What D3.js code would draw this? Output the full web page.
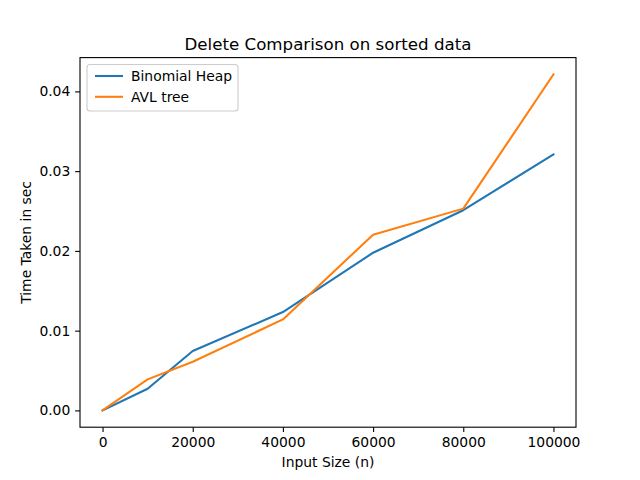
<!DOCTYPE html>
<html><head><meta charset="utf-8">
<script src="https://cdn.jsdelivr.net/npm/d3@7/dist/d3.min.js"></script>
<style>body{margin:0;background:#fff}svg{display:block;font-family:"DejaVu Sans",sans-serif}</style>
</head><body>
<svg id="c" width="640" height="480"></svg>
<script>
const sizes = [0, 10000, 20000, 40000, 60000, 80000, 100000];
const binomialHeap = [0.0, 0.00272, 0.00744, 0.01233, 0.01977, 0.0251, 0.0321];
const avlTree = [0.0, 0.00389, 0.0061, 0.01141, 0.02203, 0.0253, 0.04213];
const xTicks = [0, 20000, 40000, 60000, 80000, 100000];
const yTicks = [0.00, 0.01, 0.02, 0.03, 0.04];
const seriesNames = ["Binomial Heap", "AVL tree"];
const colors = ["#1f77b4", "#ff7f0e"];

const svg = d3.select("#c");
const L = 80, R = 576, T = 57.6, B = 427.2;
const allY = binomialHeap.concat(avlTree);
const ymin = d3.min(allY), ymax = d3.max(allY);
const ypad = (ymax - ymin) * 0.05;
const xpad = (d3.max(sizes) - d3.min(sizes)) * 0.05;
const x = d3.scaleLinear().domain([d3.min(sizes) - xpad, d3.max(sizes) + xpad]).range([L, R]);
const y = d3.scaleLinear().domain([ymin - ypad, ymax + ypad]).range([B, T]);

const fs = 13.89;
const line = d3.line().x((d, i) => x(sizes[i])).y(d => y(d));
[binomialHeap, avlTree].forEach((s, k) => {
  svg.append("path").datum(s).attr("d", line).attr("fill", "none")
    .attr("stroke", colors[k]).attr("stroke-width", 2.08)
    .attr("stroke-linejoin", "round").attr("stroke-linecap", "square");
});

// axes
const xa = d3.axisBottom(x).tickValues(xTicks).tickFormat(d3.format("d")).tickSize(4.86).tickPadding(4.86);
const ya = d3.axisLeft(y).tickValues(yTicks).tickFormat(d3.format(".2f")).tickSize(4.86).tickPadding(4.86);
const gx = svg.append("g").attr("transform", `translate(0,${B})`).call(xa);
const gy = svg.append("g").attr("transform", `translate(${L},0)`).call(ya);
[gx, gy].forEach(g => {
  g.select(".domain").remove();
  g.selectAll("line").attr("stroke", "#000").attr("stroke-width", 1.1);
  g.selectAll("text").attr("font-size", fs).attr("fill", "#000").attr("font-family", "DejaVu Sans");
});
svg.append("rect").attr("x", L).attr("y", T).attr("width", R - L).attr("height", B - T)
  .attr("fill", "none").attr("stroke", "#000").attr("stroke-width", 1.1);

svg.append("text").attr("x", (L + R) / 2).attr("y", 49.5).attr("text-anchor", "middle")
  .attr("font-size", 16.67).text("Delete Comparison on sorted data");
svg.append("text").attr("x", (L + R) / 2).attr("y", 467).attr("text-anchor", "middle")
  .attr("font-size", fs).text("Input Size (n)");
svg.append("text").attr("transform", `translate(31,${(T + B) / 2}) rotate(-90)`).attr("text-anchor", "middle")
  .attr("font-size", fs).text("Time Taken in sec");

// legend
const lg = svg.append("g");
lg.append("rect").attr("x", 87).attr("y", 64.5).attr("width", 151).attr("height", 46.5)
  .attr("rx", 3).attr("fill", "#fff").attr("fill-opacity", 0.8).attr("stroke", "#cccccc").attr("stroke-width", 1.1);
seriesNames.forEach((n, i) => {
  const yy = 76 + i * 20.8;
  lg.append("line").attr("x1", 95).attr("x2", 123).attr("y1", yy).attr("y2", yy)
    .attr("stroke", colors[i]).attr("stroke-width", 2.08);
  lg.append("text").attr("x", 131).attr("y", yy + 5).attr("font-size", fs).text(n);
});
</script>
</body></html>
